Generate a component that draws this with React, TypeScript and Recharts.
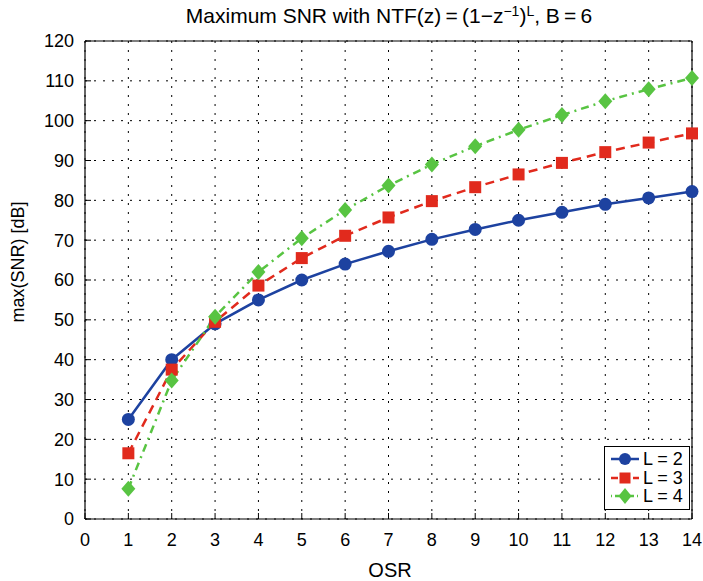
import { LineChart, Line, XAxis, YAxis, CartesianGrid, Legend } from 'recharts';

const osr = [1, 2, 3, 4, 5, 6, 7, 8, 9, 10, 11, 12, 13, 14];
const snrL2 = [25, 40, 49, 55, 60, 64, 67.2, 70.2, 72.7, 75, 77, 79, 80.6, 82.2];
const snrL3 = [16.5, 37.5, 49.5, 58.6, 65.5, 71.1, 75.7, 79.8, 83.3, 86.5, 89.4, 92.1, 94.5, 96.8];
const snrL4 = [7.6, 34.8, 50.8, 62, 70.5, 77.6, 83.7, 89, 93.6, 97.7, 101.4, 104.9, 107.9, 110.7];
const xTicks = [0, 1, 2, 3, 4, 5, 6, 7, 8, 9, 10, 11, 12, 13, 14];
const yTicks = [0, 10, 20, 30, 40, 50, 60, 70, 80, 90, 100, 110, 120];

const data = osr.map((x, i) => ({ osr: x, l2: snrL2[i], l3: snrL3[i], l4: snrL4[i] }));

const BLUE = '#1d42a0';
const RED = '#e12a1d';
const GREEN = '#58c442';
const FONT = '"Liberation Sans", Arial, Helvetica, sans-serif';

const CircleDot = (p: any) => <circle key={p.index} cx={p.cx} cy={p.cy} r={6.5} fill={BLUE} />;
const SquareDot = (p: any) => <rect key={p.index} x={p.cx - 6} y={p.cy - 6} width={12} height={12} fill={RED} />;
const DiamondDot = (p: any) => (
  <polygon key={p.index} points={`${p.cx},${p.cy - 8} ${p.cx + 7},${p.cy} ${p.cx},${p.cy + 8} ${p.cx - 7},${p.cy}`} fill={GREEN} />
);

const legendRows = [
  { label: 'L = 2', color: BLUE, dash: undefined, marker: 'circle' },
  { label: 'L = 3', color: RED, dash: '7 4', marker: 'square' },
  { label: 'L = 4', color: GREEN, dash: '1 3 6 3', marker: 'diamond' },
];

function LegendBox() {
  return (
    <div style={{ border: '1px solid #000', background: '#fff', padding: '3px 6px 3px 5px', fontFamily: FONT, fontSize: 18 }}>
      {legendRows.map((r) => (
        <div key={r.label} style={{ display: 'flex', alignItems: 'center', height: 18.5 }}>
          <svg width={30} height={18}>
            <line x1={1} y1={9} x2={29} y2={9} stroke={r.color} strokeWidth={2.5} strokeDasharray={r.dash} />
            {r.marker === 'circle' && <circle cx={15} cy={9} r={6} fill={r.color} />}
            {r.marker === 'square' && <rect x={9.5} y={3.5} width={11} height={11} fill={r.color} />}
            {r.marker === 'diamond' && <polygon points="15,1 21.5,9 15,17 8.5,9" fill={r.color} />}
          </svg>
          <span style={{ marginLeft: 3, lineHeight: '18px' }}>{r.label}</span>
        </div>
      ))}
    </div>
  );
}

export default function App() {
  const tickStyle = { fill: '#000', fontSize: 18, fontFamily: FONT };
  const sup = { fontSize: 14, verticalAlign: '0.5em', lineHeight: 0 };
  return (
    <div style={{ position: 'absolute', left: 0, top: 0, width: 703, height: 581, background: '#fff', fontFamily: FONT }}>
      <div style={{ position: 'absolute', left: 0, top: 4, width: 778, textAlign: 'center', fontSize: 21, color: '#000', whiteSpace: 'nowrap' }}>
        Maximum SNR with NTF(z)&thinsp;=&thinsp;(1−z<span style={sup}>−1</span>)<span style={sup}>L</span>, B&thinsp;=&thinsp;6
      </div>
      <LineChart width={703} height={581} data={data} margin={{ top: 40, right: 10, bottom: 0, left: 0 }}>
        <CartesianGrid stroke="#000" strokeWidth={1} strokeDasharray="2 7" />
        <XAxis
          dataKey="osr"
          type="number"
          domain={[0, 14]}
          ticks={xTicks}
          interval={0}
          height={62}
          tick={tickStyle}
          tickSize={-6}
          tickMargin={20}
          axisLine={{ stroke: '#000', strokeWidth: 1.2 }}
          tickLine={{ stroke: '#000' }}
          label={() => (
            <text x={390} y={577} textAnchor="middle" fontSize={20} fontFamily={FONT} fill="#000">OSR</text>
          )}
        />
        <XAxis
          xAxisId="top"
          orientation="top"
          dataKey="osr"
          type="number"
          domain={[0, 14]}
          ticks={xTicks}
          interval={0}
          height={1}
          tick={false}
          tickSize={-7}
          axisLine={{ stroke: '#000', strokeWidth: 1.2 }}
          tickLine={{ stroke: '#000' }}
        />
        <YAxis
          type="number"
          domain={[0, 120]}
          ticks={yTicks}
          interval={0}
          width={85}
          tick={tickStyle}
          tickSize={-6}
          tickMargin={17}
          axisLine={{ stroke: '#000', strokeWidth: 1.2 }}
          tickLine={{ stroke: '#000' }}
          label={() => (
            <text x={24} y={262} transform="rotate(-90,24,262)" textAnchor="middle" fontSize={18} fontFamily={FONT} fill="#000">
              max(SNR) [dB]
            </text>
          )}
        />
        <YAxis
          yAxisId="right"
          orientation="right"
          type="number"
          domain={[0, 120]}
          ticks={yTicks}
          interval={0}
          width={1}
          tick={false}
          tickSize={-7}
          axisLine={{ stroke: '#000', strokeWidth: 1.2 }}
          tickLine={{ stroke: '#000' }}
        />
        <Legend
          layout="vertical"
          align="center"
          verticalAlign="middle"
          wrapperStyle={{ left: 604, top: 446, width: 'auto' }}
          content={() => <LegendBox />}
        />
        <Line dataKey="l2" stroke={BLUE} strokeWidth={2.5} dot={CircleDot} activeDot={false} isAnimationActive={false} />
        <Line xAxisId="top" dataKey="l3" stroke={RED} strokeWidth={2.5} strokeDasharray="9 6" dot={SquareDot} activeDot={false} isAnimationActive={false} />
        <Line yAxisId="right" dataKey="l4" stroke={GREEN} strokeWidth={2.5} strokeDasharray="8 5 2 5" dot={DiamondDot} activeDot={false} isAnimationActive={false} />
      </LineChart>
    </div>
  );
}
